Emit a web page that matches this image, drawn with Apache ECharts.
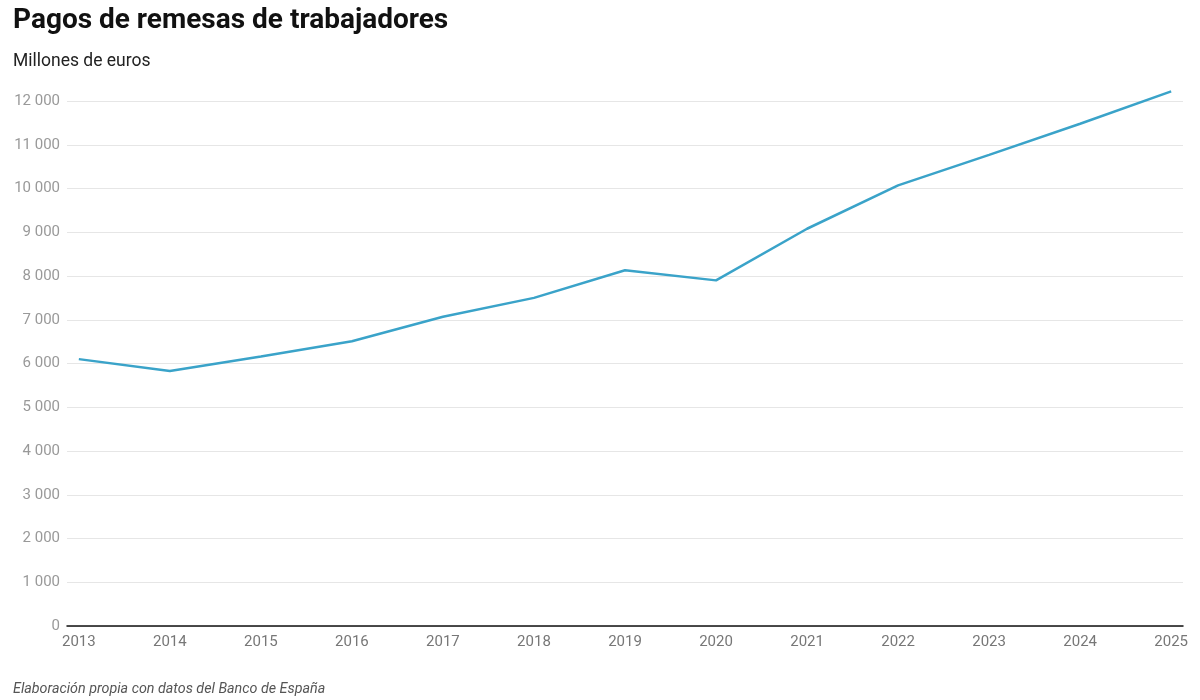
<!DOCTYPE html>
<html>
<head>
<meta charset="utf-8">
<script src="https://cdn.jsdelivr.net/npm/echarts@6/dist/echarts.min.js"></script>
<style>
  html, body { margin: 0; padding: 0; background: #fff; }
  #chart { width: 1200px; height: 700px; }
</style>
</head>
<body>
<div id="chart"></div>
<script>
var years = [2013, 2014, 2015, 2016, 2017, 2018, 2019, 2020, 2021, 2022, 2023, 2024, 2025];
var pagos = [6100, 5830, 6160, 6510, 7070, 7500, 8130, 7900, 9080, 10070, 10770, 11480, 12220];
var yTicks = [0, 1000, 2000, 3000, 4000, 5000, 6000, 7000, 8000, 9000, 10000, 11000, 12000];

var chart = echarts.init(document.getElementById('chart'));

function fmt(v) {
    return String(v).replace(/\B(?=(\d{3})+(?!\d))/g, ' ');
}

chart.setOption({
    animation: false,
    textStyle: { fontFamily: 'Roboto' },
    title: [{
        text: 'Pagos de remesas de trabajadores',
        left: 8, top: 2,
        textStyle: { fontSize: 28, fontWeight: 'bold', color: '#111', fontFamily: 'Roboto' }
    }, {
        text: 'Millones de euros',
        left: 8, top: 48,
        textStyle: { fontSize: 17.5, fontWeight: 'normal', color: '#222', fontFamily: 'Roboto' }
    }, {
        text: 'Elaboración propia con datos del Banco de España',
        left: 8, top: 677,
        textStyle: { fontSize: 14.3, fontWeight: 'normal', fontStyle: 'italic', color: '#555', fontFamily: 'Roboto' }
    }],
    grid: { left: 67, right: 17, top: 101, bottom: 74, containLabel: false },
    xAxis: {
        type: 'value',
        min: 2012.87,
        max: 2025.13,
        axisLine: { show: true, onZero: false, lineStyle: { color: '#111', width: 1.5 } },
        axisTick: { show: false },
        splitLine: { show: false },
        axisLabel: {
            customValues: years,
            color: '#777', fontSize: 15, margin: 9,
            formatter: function (v) { return String(v); }
        }
    },
    yAxis: {
        type: 'value',
        min: 0, max: 12000, interval: 1000,
        axisLine: { show: false },
        axisTick: { show: false },
        splitLine: { lineStyle: { color: '#e6e6e6', width: 1 } },
        axisLabel: {
            customValues: yTicks,
            color: '#999', fontSize: 15, margin: 7,
            formatter: function (v) { return fmt(v); }
        }
    },
    series: [{
        type: 'line',
        data: years.map(function (y, i) { return [y, pagos[i]]; }),
        symbol: 'none',
        clip: false,
        lineStyle: { color: '#3aa3c9', width: 2.5 },
        z: 3
    }]
});
</script>
</body>
</html>
